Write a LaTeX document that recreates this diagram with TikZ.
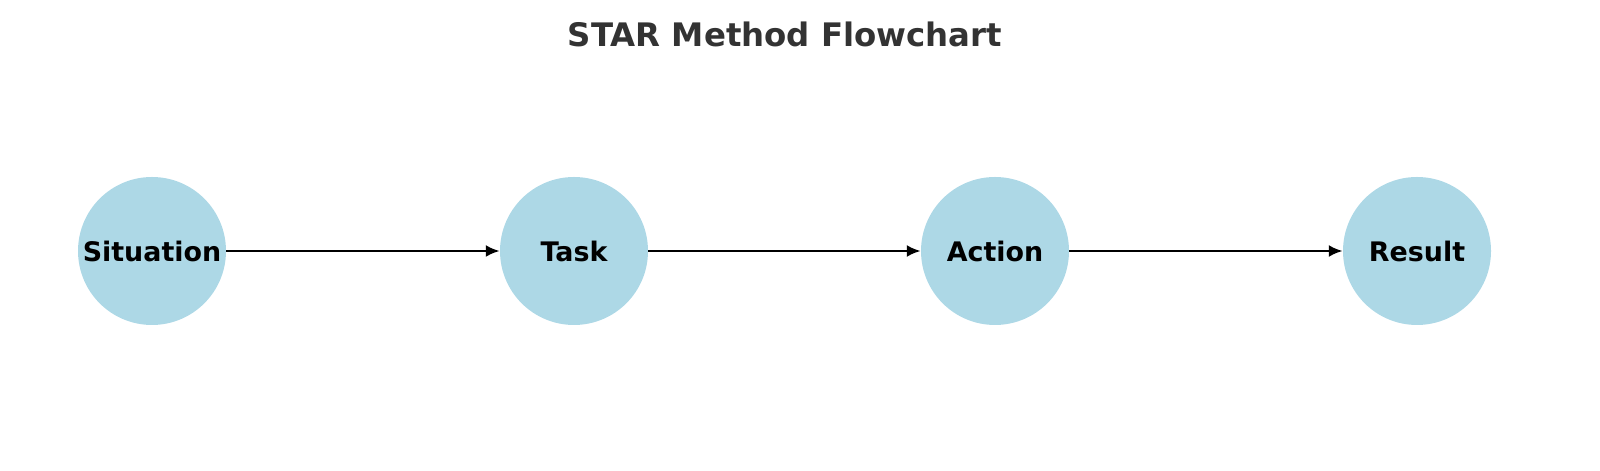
\documentclass[tikz,border=0pt]{standalone}
\usepackage{fontspec}
\setmainfont{DejaVu Sans}
\usetikzlibrary{positioning,arrows.meta}
\definecolor{nodeblue}{HTML}{ADD8E6}
\definecolor{titlegray}{HTML}{333333}
\tikzset{
	stage/.style = {circle, fill = nodeblue, minimum size = 148bp, inner sep = 0pt,
		font = \fontsize{27}{31}\selectfont\bfseries},
	flow/.style = {-{Latex[length = 14bp, width = 12bp]}, line width = 2.6bp}
}
\begin{document}
\begin{tikzpicture}[x = 1bp, y = 1bp]

	% Frame
	
	\useasboundingbox (0, 0) rectangle (1600, 471);
	
	% Title
	
	\node (title) [font = \fontsize{32.5}{36}\selectfont\bfseries, text = titlegray] at (785, 437) {STAR Method Flowchart};
	
	% Stages
	
	\node [stage] (situation) at (152, 220) {Situation};
	\node [stage] (task) at (574, 220) {Task};
	\node [stage] (action) at (995, 220) {Action};
	\node [stage] (result) at (1417, 220) {Result};
	
	% Arrows
	
	\draw [flow] (situation) -- (task);
	\draw [flow] (task) -- (action);
	\draw [flow] (action) -- (result);

\end{tikzpicture}
\end{document}
